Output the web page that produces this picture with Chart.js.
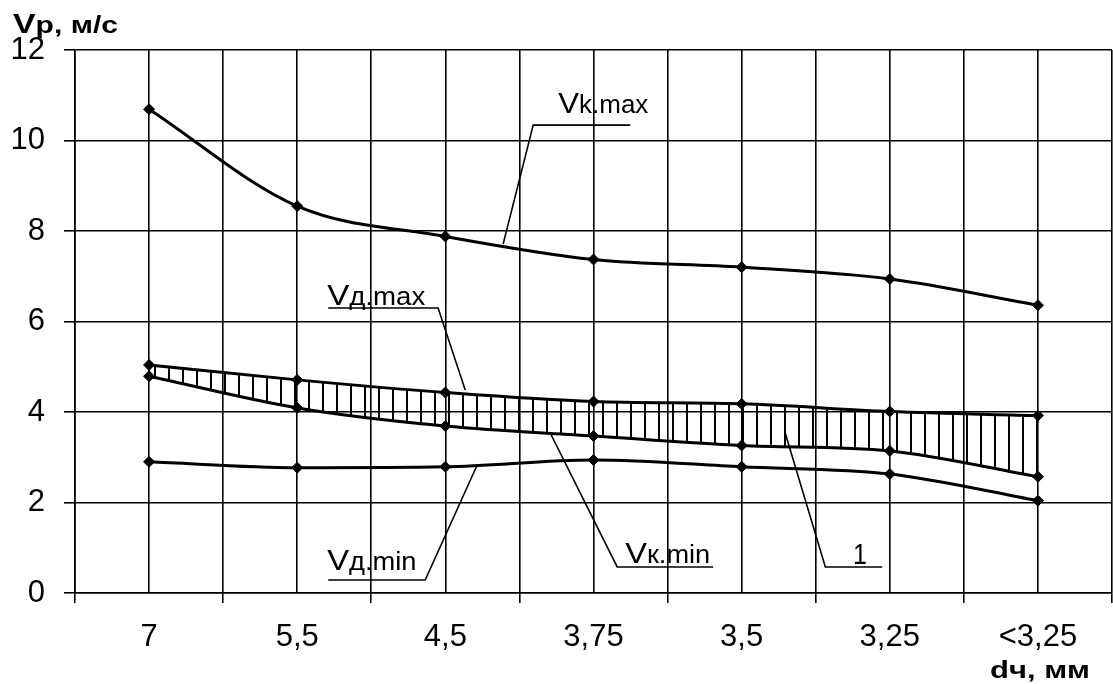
<!DOCTYPE html>
<html><head><meta charset="utf-8">
<script src="https://cdn.jsdelivr.net/npm/chart.js@4/dist/chart.umd.min.js"></script>
<style>html,body{margin:0;padding:0;background:#fff}#wrap{width:1113px;height:684px}</style>
</head><body><div id="wrap"><canvas id="c" width="1113" height="684"></canvas></div>
<script>
// ---- data ----
const categories = ['7', '5,5', '4,5', '3,75', '3,5', '3,25', '<3,25'];
const vkMax = [10.69, 8.55, 7.88, 7.37, 7.20, 6.94, 6.36];
const vdMax = [5.04, 4.71, 4.43, 4.23, 4.18, 4.01, 3.92];
const vkMin = [4.79, 4.09, 3.69, 3.47, 3.26, 3.14, 2.57];
const vdMin = [2.90, 2.77, 2.79, 2.94, 2.79, 2.63, 2.04];
const yMin = 0, yMax = 12, yStep = 2;

// callouts: text parts, leader line (in category index / value units), text box
const callouts = [
  { main: 'V', sub: 'k.max', line: [[2.39, 7.71], [2.593, 10.34], [3.248, 10.34]], text: [2.762, 3.37, 10.61] },
  { main: 'V', sub: 'д.max', line: [[1.209, 6.30], [1.951, 6.30], [2.134, 4.486]], text: [1.202, 1.864, 6.365] },
  { main: 'V', sub: 'д.min', line: [[1.209, 0.287], [1.864, 0.287], [2.215, 2.829]], text: [1.202, 1.805, 0.508] },
  { main: 'V', sub: 'к.min', line: [[3.808, 0.575], [3.160, 0.575], [2.708, 3.536]], text: [3.214, 3.788, 0.663] },
  { main: '1', sub: '', line: [[4.949, 0.575], [4.565, 0.575], [4.294, 3.536]], text: [4.752, 4.846, 0.641] }
];

// hatch pattern for region "1"
const pc = document.createElement('canvas');
pc.width = 14; pc.height = 14;
const pctx = pc.getContext('2d');
pctx.fillStyle = '#000';
pctx.fillRect(0, 0, 2, 14);
const hatch = pctx.createPattern(pc, 'repeat');

const FONT = '"Liberation Sans", Arial, sans-serif';

function fitText(ctx, parts, left, right, baseline) {
  let w = 0;
  parts.forEach(p => { ctx.font = p.f; p.w = ctx.measureText(p.t).width; w += p.w; });
  const sx = (right - left) / w;
  ctx.save();
  ctx.translate(left, baseline);
  ctx.scale(sx, 1);
  ctx.fillStyle = '#000';
  ctx.textBaseline = 'alphabetic';
  ctx.textAlign = 'left';
  let x = 0;
  parts.forEach(p => { ctx.font = p.f; ctx.fillText(p.t, x, 0); x += p.w; });
  ctx.restore();
}

const annotPlugin = {
  id: 'annot',
  afterDatasetsDraw(chart) {
    const ctx = chart.ctx, xs = chart.scales.x, ys = chart.scales.y;
    const px = i => xs.getPixelForValue(0) + i * (xs.getPixelForValue(1) - xs.getPixelForValue(0));
    const py = v => ys.getPixelForValue(v);
    ctx.save();
    ctx.strokeStyle = '#000';
    ctx.lineWidth = 1.6;
    callouts.forEach(c => {
      ctx.beginPath();
      c.line.forEach((p, k) => { const X = px(p[0]), Y = py(p[1]); k ? ctx.lineTo(X, Y) : ctx.moveTo(X, Y); });
      ctx.stroke();
      const parts = [{ t: c.main, f: '30px ' + FONT }];
      if (c.sub) parts.push({ t: c.sub, f: '25px ' + FONT });
      fitText(ctx, parts, px(c.text[0]), px(c.text[1]), py(c.text[2]));
    });
    ctx.restore();
    // axis titles
    const a = chart.chartArea;
    fitText(ctx, [{ t: 'V', f: 'bold 27px ' + FONT }, { t: 'р, м/с', f: 'bold 24px ' + FONT }], 13, 118, a.top - 17);
    fitText(ctx, [{ t: 'dч, мм', f: 'bold 24px ' + FONT }], a.right - 122, a.right - 22, a.bottom + 85);
  }
};

const common = {
  borderColor: '#000', borderWidth: 3, pointStyle: 'rectRot', pointRadius: 5.5,
  pointBackgroundColor: '#000', pointBorderColor: '#000', pointBorderWidth: 1,
  cubicInterpolationMode: 'monotone', xAxisID: 'x', yAxisID: 'y'
};

function noPad(s) { s.paddingLeft = 0; s.paddingRight = 0; }

new Chart(document.getElementById('c'), {
  type: 'line',
  data: {
    labels: categories,
    datasets: [
      Object.assign({ label: 'Vk.max', data: vkMax, fill: false }, common),
      Object.assign({ label: 'Vд.max', data: vdMax, fill: '+1', backgroundColor: hatch }, common),
      Object.assign({ label: 'Vк.min', data: vkMin, fill: false }, common),
      Object.assign({ label: 'Vд.min', data: vdMin, fill: false }, common)
    ]
  },
  options: {
    responsive: false, animation: false, devicePixelRatio: 1,
    layout: { autoPadding: false, padding: { top: 50, right: 1, left: 0, bottom: 0 } },
    plugins: { legend: { display: false }, title: { display: false }, tooltip: { enabled: false } },
    scales: {
      x: {
        type: 'category', offset: true, position: 'bottom',
        grid: { offset: true, color: '#000', lineWidth: 1.6, tickLength: 10, drawTicks: true },
        border: { display: true, color: '#000', width: 1.6 },
        ticks: { color: '#000', font: { family: FONT, size: 31 }, padding: 16, maxRotation: 0, autoSkip: false },
        afterFit(s) { s.height = 91; noPad(s); }
      },
      xc: {
        type: 'category', offset: true, position: 'bottom',
        grid: { offset: false, color: '#000', lineWidth: 1.6, drawTicks: false },
        border: { display: false },
        ticks: { display: false },
        afterFit(s) { s.height = 0; noPad(s); }
      },
      y: {
        min: yMin, max: yMax,
        grid: { color: '#000', lineWidth: 1.6, tickLength: 11, drawTicks: true },
        border: { display: true, color: '#000', width: 1.6 },
        ticks: { stepSize: yStep, color: '#000', font: { family: FONT, size: 31 }, padding: 19 },
        afterFit(s) { s.width = 75; }
      }
    }
  },
  plugins: [annotPlugin]
});
</script></body></html>
